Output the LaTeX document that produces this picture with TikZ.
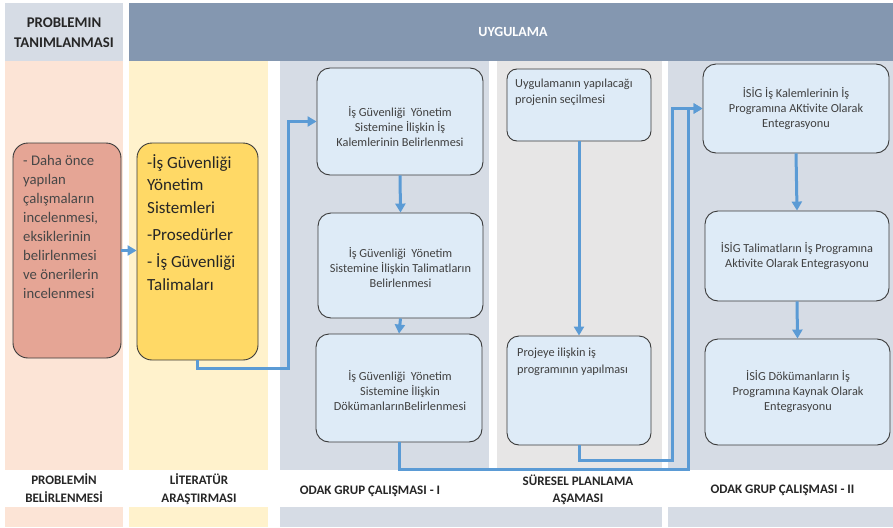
\documentclass[tikz,border=0pt]{standalone}
\usepackage{fontspec}
\setmainfont{Carlito}
\usetikzlibrary{arrows.meta}
\definecolor{hdrL}{HTML}{D6DCE5}
\definecolor{hdrU}{HTML}{8497B0}
\definecolor{peach}{HTML}{FCE4D6}
\definecolor{cream}{HTML}{FFF2CC}
\definecolor{grayblue}{HTML}{D6DCE5}
\definecolor{lgray}{HTML}{E7E6E6}
\definecolor{salmon}{HTML}{E5A595}
\definecolor{gold}{HTML}{FFD966}
\definecolor{paleblue}{HTML}{DEEBF7}
\definecolor{linkblue}{HTML}{5B9BD5}
\definecolor{edge}{HTML}{3A3A3A}
\definecolor{ink}{HTML}{404040}
\definecolor{dark}{HTML}{262626}
\begin{document}
\begin{tikzpicture}[x=1pt,y=-1pt,
  box/.style={draw=edge,line width=0.9pt,rounded corners=13pt,inner sep=0pt},
  bluebox/.style={box,fill=paleblue},
  conn/.style={draw=linkblue,line width=3pt,-{Triangle[length=9pt,width=10pt]}},
  btxt/.style={font=\fontsize{12.3}{15}\selectfont,text=ink,align=center,inner sep=0pt},
  ltxt/.style={text=ink,align=left,inner sep=0pt,anchor=west},
  head/.style={font=\bfseries\fontsize{13}{17.7}\selectfont,text=dark,align=center,inner sep=0pt}
]
\useasboundingbox (0,0) rectangle (893,527);
\fill[white] (0,0) rectangle (893,527);
% backgrounds
\fill[hdrL] (5,3) rectangle (123,61);
\fill[hdrU] (129,3) rectangle (893,61);
\fill[peach] (5,61) rectangle (123,470);
\fill[peach] (5,507) rectangle (123,527);
\fill[cream] (129,61) rectangle (268,470);
\fill[cream] (129,507) rectangle (268,527);
\fill[grayblue] (280,61) rectangle (489,470);
\fill[lgray] (497,61) rectangle (662,470);
\fill[grayblue] (668,61) rectangle (893,470);
\fill[grayblue] (280,507) rectangle (662,527);
\fill[grayblue] (668,507) rectangle (893,527);
% header texts
\node[head,font=\bfseries\fontsize{14.8}{20}\selectfont] (hp) at (64,32.7) {PROBLEMIN\\TANIMLANMASI};
\node[head,text=white,anchor=base,font=\bfseries\fontsize{14}{17}\selectfont] (hu) at (513,36.5) {UYGULAMA};
% footer texts
\node[head] (f1) at (64,488) {PROBLEMİN\\BELİRLENMESİ};
\node[head] (f2) at (199,489) {LİTERATÜR\\ARAŞTIRMASI};
\node[head,anchor=base] (f3) at (370,494) {ODAK GRUP ÇALIŞMASI - I};
\node[head] (f4) at (578,489.8) {SÜRESEL PLANLAMA\\AŞAMASI};
\node[head,anchor=base] (f5) at (782.5,493.5) {ODAK GRUP ÇALIŞMASI - II};
% boxes
\node[box,fill=salmon,rounded corners=15pt,minimum width=108pt,minimum height=215pt] (b1) at (67,250.5) {};
\node[box,fill=gold,rounded corners=15pt,minimum width=121pt,minimum height=217pt] (b2) at (197.5,251.5) {};
\node[bluebox,minimum width=166pt,minimum height=107pt] (b3a) at (400,121.5) {};
\node[bluebox,minimum width=165pt,minimum height=105pt] (b3b) at (400.5,265.5) {};
\node[bluebox,minimum width=166pt,minimum height=108pt] (b3c) at (399,388) {};
\node[bluebox,rounded corners=10pt,minimum width=144pt,minimum height=72pt] (b4a) at (579,105) {};
\node[bluebox,rounded corners=12pt,minimum width=144pt,minimum height=109pt] (b4b) at (579,390.5) {};
\node[bluebox,minimum width=186pt,minimum height=89pt] (b5a) at (796,108.5) {};
\node[bluebox,minimum width=184pt,minimum height=90pt] (b5b) at (797,256) {};
\node[bluebox,minimum width=185pt,minimum height=106pt] (b5c) at (797.5,392) {};
% box texts
\node[ltxt,font=\fontsize{14.7}{19}\selectfont,text=dark!85] (t1) at (23,227) {- Daha önce\\yapılan\\çalışmaların\\incelenmesi,\\eksiklerinin\\belirlenmesi\\ve önerilerin\\incelenmesi};
\node[ltxt,font=\fontsize{17}{22.5}\selectfont,text=dark] (t2) at (147,222.5) {-İş Güvenliği\\Yönetim\\Sistemleri\\[5pt]-Prosedürler\\[4.5pt]- İş Güvenliği\\Talimaları};
\node[btxt] (t3a) at (400,126.1) {İş Güvenliği\ \ Yönetim\\Sistemine İlişkin İş\\Kalemlerinin Belirlenmesi};
\node[btxt] (t3b) at (400.5,267.1) {İş Güvenliği\ \ Yönetim\\Sistemine İlişkin Talimatların\\Belirlenmesi};
\node[btxt] (t3c) at (400,390.1) {İş Güvenliği\ \ Yönetim\\Sistemine İlişkin\\DökümanlarınBelirlenmesi};
\node[ltxt,font=\fontsize{12.3}{15.5}\selectfont] (t4a) at (515,92.4) {Uygulamanın yapılacağı\\projenin seçilmesi};
\node[ltxt,font=\fontsize{12.3}{17}\selectfont] (t4b) at (517,361.8) {Projeye ilişkin iş\\programının yapılması};
\node[btxt] (t5a) at (796,108.4) {İSİG İş Kalemlerinin İş\\Programına AKtivite Olarak\\Entegrasyonu};
\node[btxt] (t5b) at (797,255.9) {İSİG Talimatların İş Programına\\Aktivite Olarak Entegrasyonu};
\node[btxt] (t5c) at (798,391.4) {İSİG Dökümanların İş\\Programına Kaynak Olarak\\Entegrasyonu};
% connectors
\coordinate (c1) at (288,368);
\coordinate (a1) at (672,460);
\coordinate (a2) at (688,469);
\draw[conn] (b1.east) -- (b1.east -| b2.west);
\draw[conn] (b2.south) |- (c1) |- (b3a.west);
\draw[conn] (b3a.south) -- (b3b.north);
\draw[conn] (b3b.south) -- (b3c.north);
\draw[conn] (b4a.south) -- (b4b.north);
\draw[conn] (b5a.south) -- (b5b.north);
\draw[conn] (b5b.south) -- (b5c.north);
\draw[conn] (b4b.south) |- (a1) |- (b5a.west);
\draw[conn] (b3c.south) |- (a2) |- (b5a.west);
\end{tikzpicture}
\end{document}
